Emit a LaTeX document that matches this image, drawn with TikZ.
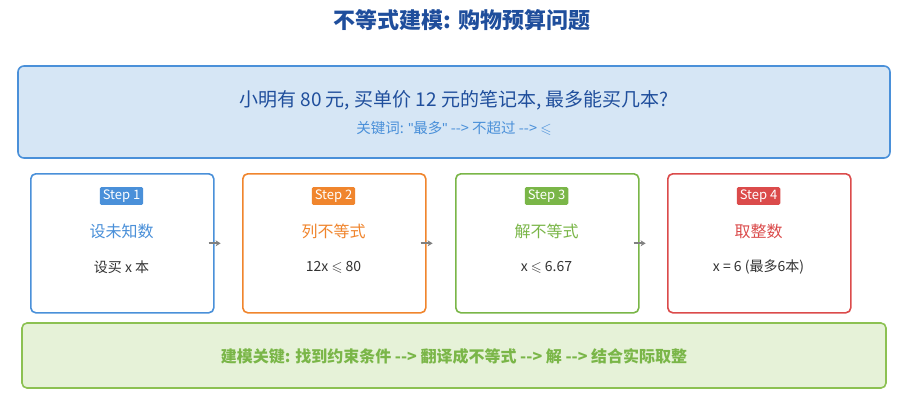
\documentclass[tikz,border=0pt]{standalone}
\usepackage{amssymb}
\usepackage{fontspec}
\setmainfont{Noto Sans CJK SC}
\newfontfamily\latinfont{Liberation Sans}
\usetikzlibrary{arrows.meta}
\definecolor{cblue}{HTML}{4A90D9}
\definecolor{corange}{HTML}{F0852D}
\definecolor{cgreen}{HTML}{7AB648}
\definecolor{cred}{HTML}{DB4B4B}
\definecolor{dblue}{HTML}{1F4E9C}
\definecolor{topfill}{HTML}{D6E6F5}
\definecolor{botfill}{HTML}{E6F2D8}
\definecolor{botline}{HTML}{8CC152}
\newcommand{\lsq}{$\leqslant$}
\newcommand{\qt}{{\latinfont"}}
\tikzset{
 stepbox/.style={draw=#1,line width=1.6pt,rounded corners=5pt,fill=white,minimum width=183pt,minimum height=139pt,anchor=north west},
 tag/.style={fill=#1,text=white,font=\fontsize{13}{15}\selectfont,inner xsep=3pt,inner ysep=2.5pt,rounded corners=1.5pt},
 stitle/.style={text=#1,font=\fontsize{16}{18}\selectfont},
 scont/.style={text=black!80,font=\fontsize{14}{16}\selectfont},
 conn/.style={-{Stealth[length=5pt,width=6pt]},gray,line width=2pt}
}
\begin{document}
\begin{tikzpicture}[x=1pt,y=-1pt]
\useasboundingbox (0,0) rectangle (924,402);
\node[text=dblue,font=\bfseries\fontsize{22}{24}\selectfont] (title) at (462,20) {不等式建模: 购物预算问题};
\node[draw=cblue,line width=1.6pt,fill=topfill,rounded corners=6pt,minimum width=872pt,minimum height=92pt] (top) at (454,112) {};
\node[text=dblue,font=\fontsize{19}{21}\selectfont] (q) at (454,100) {小明有 80 元, 买单价 12 元的笔记本, 最多能买几本?};
\node[text=cblue,font=\fontsize{14.5}{16}\selectfont] (k) at (454,128) {关键词: \qt 最多\qt{} -{}-> 不超过 -{}-> \lsq};
\foreach \i/\x/\c/\t/\s in {1/30/cblue/设未知数/设买 x 本, 2/242/corange/列不等式/12x \lsq{} 80, 3/455/cgreen/解不等式/x \lsq{} 6.67, 4/667/cred/取整数/x = 6 (最多6本)}{
 \node[stepbox=\c] (b\i) at (\x,173) {};
 \node[tag=\c] (t\i) at (\x+91.5,196) {Step \i};
 \node[stitle=\c] (h\i) at (\x+91.5,231) {\t};
 \node[scont] (c\i) at (\x+91.5,267) {\s};
}
\foreach \i in {1,2,3}{
 \coordinate (e\i) at ([xshift=6pt]b\i.east);
 \draw[conn] ([xshift=-6pt]b\i.east) -- (e\i);
}
\node[draw=botline,line width=1.6pt,fill=botfill,rounded corners=5pt,minimum width=864pt,minimum height=65pt] (bot) at (454,355.5) {};
\node[text=cgreen,font=\bfseries\fontsize{16}{18}\selectfont] (bt) at (454,356) {建模关键: 找到约束条件 -{}-> 翻译成不等式 -{}-> 解 -{}-> 结合实际取整};
\end{tikzpicture}
\end{document}
